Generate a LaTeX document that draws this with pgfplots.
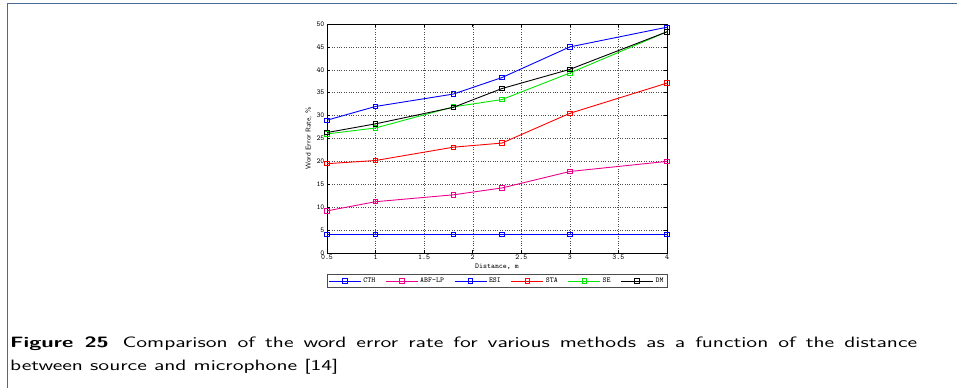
\documentclass[border=0pt]{standalone}
\usepackage{pgfplots}
\pgfplotsset{compat=1.18}
\definecolor{frame}{RGB}{74,106,150}
\definecolor{mgreen}{RGB}{0,230,0}
\begin{document}
\begin{tikzpicture}[x=1pt,y=1pt]
\useasboundingbox (0,0) rectangle (957,388);
\draw[color=frame, line width=1.6pt] (7.5,0) -- (7.5,384.5) -- (957,384.5);
\begin{axis}[at={(327pt,135pt)}, anchor=south west, scale only axis,
  width=340pt, height=229pt,
  xmin=0.5, xmax=4, ymin=0, ymax=50,
  xtick={0.5,1,...,4}, ytick={0,5,...,50},
  xticklabels={0.5,1,1.5,2,2.5,3,3.5,4},
  grid=major, major grid style={black!70, dotted, line width=0.4pt},
  axis line style={black, line width=0.6pt},
  tick style={black, line width=0.5pt}, tick align=inside, major tick length=3pt,
  ticklabel style={font=\fontsize{7.5}{8}\selectfont\ttfamily, /pgf/number format/assume math mode=true},
  xticklabel style={yshift=2pt},
  yticklabel style={xshift=1pt},
  xlabel={\fontsize{7.5}{8}\selectfont\ttfamily Distance, m}, xlabel style={yshift=2pt},
  ylabel={\fontsize{7}{8}\selectfont\sffamily Word Error Rate, \%}, ylabel style={yshift=-2pt},
  legend columns=6,
  legend style={at={(0.5,-0.093)}, anchor=north, font=\fontsize{7.5}{8}\selectfont\ttfamily,
    draw=black!70, line width=0.5pt, inner sep=1.5pt, row sep=0pt,
    /tikz/every even column/.append style={column sep=8pt}},
  legend image code/.code={\draw[#1] (0pt,0pt) -- (32pt,0pt); \draw[#1, mark repeat=1, mark phase=1] plot coordinates {(16pt,0pt)};},
  every axis plot/.append style={line width=0.9pt, mark=square, mark size=2.2pt, mark options={solid, line width=0.9pt}},
]
\addplot[color=blue] coordinates {(0.5,4.1) (1,4.1) (1.8,4.1) (2.3,4.1) (3,4.1) (4,4.1)};
\addlegendentry{CTH}
\addplot[color=magenta] coordinates {(0.5,9.2) (1,11.2) (1.8,12.7) (2.3,14.2) (3,17.8) (4,20)};
\addlegendentry{ABF-LP}
\addplot[color=blue] coordinates {(0.5,29) (1,32) (1.8,34.7) (2.3,38.3) (3,45) (4,49.3)};
\addlegendentry{ESI}
\addplot[color=red] coordinates {(0.5,19.5) (1,20.2) (1.8,23.1) (2.3,24) (3,30.5) (4,37.1)};
\addlegendentry{STA}
\addplot[color=mgreen] coordinates {(0.5,26) (1,27.3) (1.8,31.9) (2.3,33.5) (3,39.3) (4,48.3)};
\addlegendentry{SE}
\addplot[color=black] coordinates {(0.5,26.3) (1,28.2) (1.8,31.8) (2.3,35.9) (3,40.1) (4,48.3)};
\addlegendentry{DM}
\end{axis}
\node[anchor=west, inner sep=0pt, font=\fontsize{15}{23}\selectfont\sffamily] at (10,44) {\scalebox{1.47}[1]{\makebox[617pt][s]{\textbf{Figure 25}\, Comparison of the word error rate for various methods as a function of the distance}}};
\node[anchor=west, inner sep=0pt, font=\fontsize{15}{23}\selectfont\sffamily] at (10,21) {\scalebox{1.47}[1]{between source and microphone [14]}};
\end{tikzpicture}
\end{document}
